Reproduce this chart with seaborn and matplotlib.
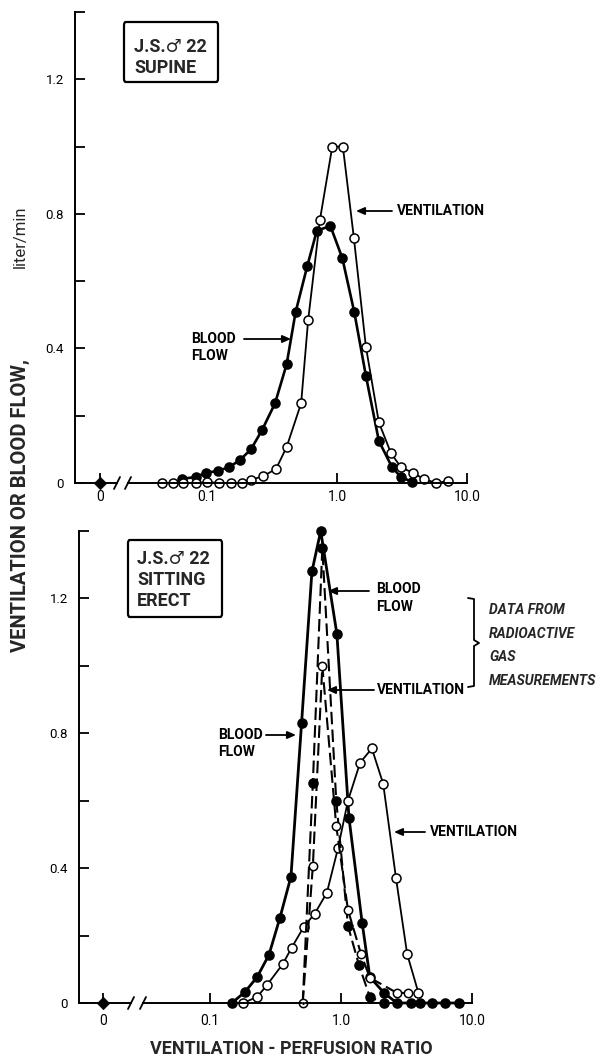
import matplotlib
matplotlib.use("Agg")
import matplotlib.pyplot as plt
import seaborn as sns
import numpy as np
import pandas as pd
from matplotlib.lines import Line2D
from matplotlib.patches import FancyBboxPatch
from matplotlib.ticker import FixedLocator, FixedFormatter, NullLocator

# ---------------- data ----------------
zero_ratio = [0.0]
zero_flow = [0.0]

# Upper panel: J.S. supine
sup_bf_ratio = [0.064, 0.082, 0.098, 0.121, 0.148, 0.179, 0.218, 0.265, 0.334, 0.41,
                0.48, 0.59, 0.70, 0.89, 1.10, 1.36, 1.67, 2.1, 2.65, 3.1, 3.8]
sup_bf_flow = [0.012, 0.018, 0.03, 0.036, 0.047, 0.068, 0.10, 0.157, 0.237, 0.353,
               0.507, 0.644, 0.75, 0.764, 0.668, 0.507, 0.318, 0.125, 0.047, 0.018, 0.003]
sup_v_ratio = [0.045, 0.055, 0.066, 0.082, 0.10, 0.124, 0.153, 0.186, 0.22, 0.27, 0.34,
               0.41, 0.53, 0.60, 0.74, 0.92, 1.11, 1.35, 1.67, 2.1, 2.6, 3.1, 3.85, 4.65,
               5.8, 7.1]
sup_v_flow = [0.0, 0.0, 0.0, 0.0, 0.003, 0.0, 0.0, 0.0, 0.01, 0.02, 0.042,
              0.107, 0.237, 0.484, 0.783, 1.0, 1.0, 0.727, 0.404, 0.18, 0.089, 0.047, 0.03, 0.012,
              0.0, 0.006]

# Lower panel: J.S. sitting erect
sit_bf_ratio = [0.147, 0.185, 0.229, 0.282, 0.342, 0.415, 0.50, 0.60, 0.70, 0.93, 1.15,
                1.45, 1.66, 2.13, 2.67, 3.42, 4.0, 4.95, 6.2, 7.9]
sit_bf_flow = [0.0, 0.033, 0.077, 0.143, 0.253, 0.375, 0.83, 1.28, 1.40, 1.095, 0.55,
               0.238, 0.077, 0.03, 0.0, 0.0, 0.0, 0.0, 0.0, 0.0]
sit_v_ratio = [0.179, 0.229, 0.272, 0.36, 0.42, 0.52, 0.63, 0.78, 0.95, 1.13, 1.40, 1.72,
               2.1, 2.63, 3.2, 3.9]
sit_v_flow = [0.0, 0.018, 0.053, 0.116, 0.164, 0.226, 0.265, 0.327, 0.46, 0.60, 0.713, 0.755,
              0.65, 0.37, 0.145, 0.03]
# radioactive gas measurements (dashed)
gas_bf_ratio = [0.51, 0.61, 0.72, 0.92, 1.13, 1.37, 1.66, 2.13]
gas_bf_flow = [0.0, 0.654, 1.35, 0.60, 0.229, 0.113, 0.018, 0.0]
gas_v_ratio = [0.51, 0.61, 0.72, 0.92, 1.13, 1.42, 1.66, 2.67, 3.25]
gas_v_flow = [0.0, 0.407, 1.0, 0.525, 0.276, 0.146, 0.075, 0.03, 0.03]

y_ticks = [0.0, 0.2, 0.4, 0.6, 0.8, 1.0, 1.2, 1.4]
y_ticklabels = ["0", "", "0.4", "", "0.8", "", "1.2", ""]
x_log_ticks = [0.1, 1.0, 10.0]
x_log_ticklabels = ["0.1", "1.0", "10.0"]

# ---------------- figure ----------------
W, H = 603, 1059
sns.set_theme(style="ticks")
plt.rcParams["font.family"] = ["Roboto", "DejaVu Sans"]
plt.rcParams["axes.edgecolor"] = "black"
fig = plt.figure(figsize=(W / 100, H / 100), dpi=100)
fig.patch.set_facecolor("white")


def fx(x):
    return x / W


def fy(y):
    return 1 - y / H


def rect(l, r, b, t):
    return [fx(l), fy(b), (r - l) / W, (b - t) / H]


def panel(left, zero_px, brk_l, brk_r, right, y0, ytop, xpad, log_lo):
    ax0 = fig.add_axes(rect(left, brk_l, y0, ytop))
    ax1 = fig.add_axes(rect(brk_r, right, y0, ytop))
    ppu = zero_px - left
    ax0.set_xlim(-1, (brk_l - zero_px) / ppu)
    ax1.set_xscale("log")
    ax1.set_xlim(log_lo, 10)
    for ax in (ax0, ax1):
        ax.set_ylim(0, 1.4)
        ax.patch.set_alpha(0)
        ax.spines["top"].set_visible(False)
        ax.spines["right"].set_visible(False)
        for s in ax.spines.values():
            s.set_linewidth(1.4)
            s.set_color("black")
        ax.tick_params(direction="in", length=7, width=1.3, colors="black",
                       labelsize=10, pad=xpad)
        ax.set_xlabel("")
        ax.set_ylabel("")
    ax1.spines["left"].set_visible(False)
    ax1.tick_params(axis="y", left=False, labelleft=False)
    ax0.yaxis.set_major_locator(FixedLocator(y_ticks))
    ax0.yaxis.set_major_formatter(FixedFormatter(y_ticklabels))
    ax0.tick_params(axis="y", pad=8, labelsize=9.5)
    ax0.xaxis.set_major_locator(FixedLocator([0]))
    ax0.xaxis.set_major_formatter(FixedFormatter(["0"]))
    ax1.xaxis.set_major_locator(FixedLocator(x_log_ticks))
    ax1.xaxis.set_major_formatter(FixedFormatter(x_log_ticklabels))
    ax1.xaxis.set_minor_locator(NullLocator())
    # axis break marks
    for bx in (brk_l, brk_r):
        fig.add_artist(Line2D([fx(bx - 3), fx(bx + 3)], [fy(y0 - 6 + 12), fy(y0 - 6)],
                              transform=fig.transFigure, color="black", lw=1.3))
    return ax0, ax1


def curve(ax, x, y, filled, ls="-", lw=1.5, ms=6.5, **extra):
    sns.lineplot(x=x, y=y, ax=ax, color="black", lw=lw, linestyle=ls, marker="o",
                 markersize=ms, markerfacecolor="black" if filled else "white",
                 markeredgecolor="black", markeredgewidth=1.1, estimator=None,
                 sort=False, clip_on=False, legend=False, **extra)


def zero_point(ax):
    sns.scatterplot(x=zero_ratio, y=zero_flow, ax=ax, marker="D", s=40, color="black",
                    edgecolor="black", clip_on=False, legend=False, zorder=5)


# ----- upper panel -----
a0, a1 = panel(75, 100, 117, 128, 467, 483, 12, 5, 0.0247)
zero_point(a0)
curve(a1, sup_bf_ratio, sup_bf_flow, True, lw=1.9)
curve(a1, sup_v_ratio, sup_v_flow, False, lw=1.3)

# ----- lower panel -----
b0, b1 = panel(79, 103, 131, 143, 472, 1003, 531, 8, 0.0308)
zero_point(b0)
curve(b1, sit_bf_ratio, sit_bf_flow, True, lw=2.0)
curve(b1, sit_v_ratio, sit_v_flow, False, lw=1.3)
curve(b1, gas_bf_ratio, gas_bf_flow, True, ls=(0, (6, 2.5)), lw=1.5,
      markevery=list(range(1, len(gas_bf_ratio))))
curve(b1, gas_v_ratio, gas_v_flow, False, ls=(0, (6, 2.5)), lw=1.5, ms=6)
sns.scatterplot(x=gas_bf_ratio[:1], y=gas_bf_flow[:1], ax=b1, s=5, color="black",
                clip_on=False, legend=False, zorder=6)

# ---------------- text & annotations ----------------
lab = dict(fontsize=10, fontweight="bold", color="black", transform=fig.transFigure,
           va="center", ha="left")


def arrow(x_from, x_to, y):
    fig.add_artist(matplotlib.patches.FancyArrowPatch(
        (fx(x_from), fy(y)), (fx(x_to), fy(y)), transform=fig.transFigure,
        arrowstyle="-|>,head_length=5,head_width=2.2", lw=1.3, color="black",
        shrinkA=0, shrinkB=0, mutation_scale=1))


# upper
fig.text(fx(397), fy(211), "VENTILATION", **lab)
arrow(392, 356, 211)
fig.text(fx(191), fy(339), "BLOOD", **lab)
fig.text(fx(191), fy(356), "FLOW", **lab)
arrow(244, 291, 339)

# lower
fig.text(fx(218), fy(735), "BLOOD", **lab)
fig.text(fx(218), fy(752), "FLOW", **lab)
arrow(266, 296, 735)
fig.text(fx(376), fy(589), "BLOOD", **lab)
fig.text(fx(376), fy(607), "FLOW", **lab)
arrow(369, 328, 591)
fig.text(fx(377), fy(690), "VENTILATION", **lab)
arrow(374, 327, 690)
fig.text(fx(430), fy(832), "VENTILATION", **lab)
arrow(425, 394, 832)

# bracket
bx = [468, 474, 474, 479, 474, 474, 468]
by = [598, 599, 640, 643, 646, 686, 687]
fig.add_artist(Line2D([fx(v) for v in bx], [fy(v) for v in by], transform=fig.transFigure,
                      color="black", lw=1.3))
for i, t in enumerate(["DATA FROM", "RADIOACTIVE", "GAS", "MEASUREMENTS"]):
    fig.text(fx(489), fy(610 + i * 23.7), t, fontsize=10, fontweight="bold",
             fontstyle="italic", transform=fig.transFigure, va="center", ha="left")

# boxes
def box(l, t, r, b, lines, y_first, dy, x_text):
    fig.add_artist(FancyBboxPatch((fx(l), fy(b)), (r - l) / W, (b - t) / H,
                                  boxstyle="round,pad=0,rounding_size=0.003",
                                  transform=fig.transFigure, fill=False, lw=1.6,
                                  edgecolor="black"))
    for i, t_ in enumerate(lines):
        fig.text(fx(x_text), fy(y_first + i * dy), t_, fontsize=13, fontweight="bold",
                 transform=fig.transFigure, va="center", ha="left",
                 family=["Roboto", "DejaVu Sans"])


box(124, 22, 218, 82, ["J.S.\u2642 22", "SUPINE"], 47, 21, 134)
box(128, 540, 222, 617, ["J.S.\u2642 22", "SITTING", "ERECT"], 559, 21, 137)

# axis titles
fig.text(fx(20), fy(652), "VENTILATION OR BLOOD FLOW,", rotation=90, rotation_mode="anchor",
         ha="left", va="center", fontsize=14.5, fontweight="bold",
         transform=fig.transFigure)
fig.text(fx(20), fy(205), "liter/min", rotation=90, rotation_mode="anchor",
         ha="right", va="center", fontsize=12, transform=fig.transFigure)
fig.text(fx(291), fy(1049), "VENTILATION - PERFUSION RATIO", ha="center", va="center",
         fontsize=13, fontweight="bold", transform=fig.transFigure)

fig.savefig("out.png", dpi=100, facecolor="white")
